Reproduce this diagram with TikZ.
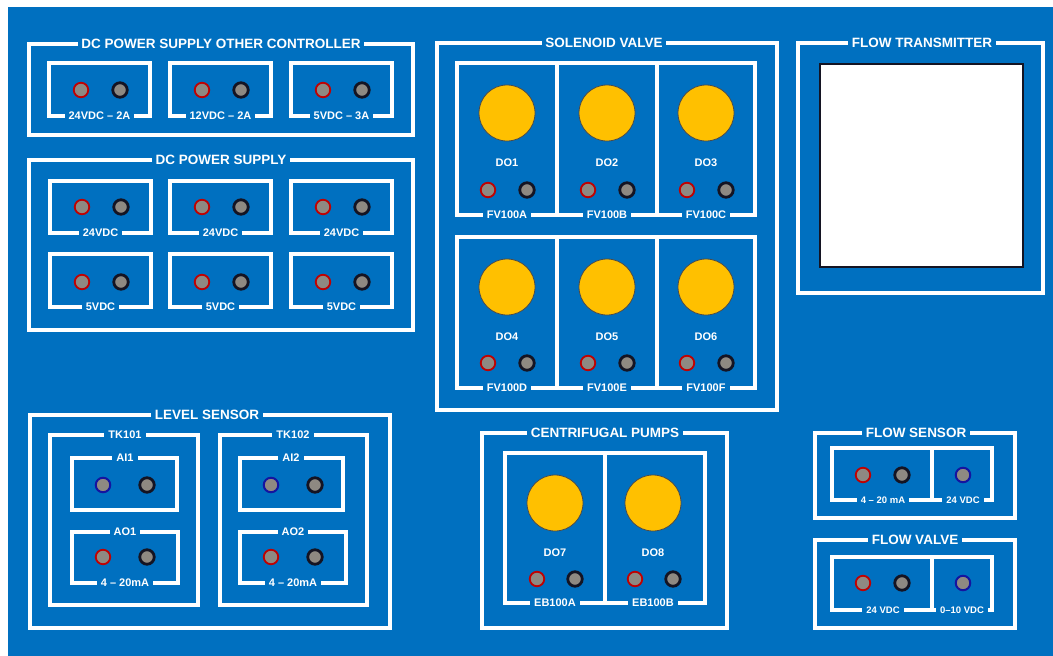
\documentclass[tikz,border=0pt]{standalone}
\usepackage{fontspec}
\setmainfont{Liberation Sans}
\definecolor{bg}{RGB}{0,112,192}
\definecolor{tgrey}{RGB}{142,137,130}
\definecolor{tred}{RGB}{192,0,0}
\definecolor{tblack}{RGB}{20,20,35}
\definecolor{tblue}{RGB}{20,20,160}
\definecolor{lamp}{RGB}{255,192,0}
\tikzset{
 frame/.style={draw=white,line width=4pt},
 ttl/.style={fill=bg,text=white,font=\bfseries\fontsize{13.5}{14}\selectfont,inner xsep=3.5pt,inner ysep=1pt},
 lbl/.style={fill=bg,text=white,font=\bfseries\fontsize{11}{12}\selectfont,inner xsep=4pt,inner ysep=1pt},
 slbl/.style={lbl,font=\bfseries\fontsize{9.5}{10}\selectfont},
 txt/.style={text=white,font=\bfseries\fontsize{11}{12}\selectfont},
 jack/.style={circle,fill=tgrey,minimum size=14.5pt,inner sep=0pt},
 jr/.style={jack,draw=tred,line width=1.8pt},
 jb/.style={jack,draw=tblack,line width=2.8pt},
 ju/.style={jack,draw=tblue,line width=2pt},
 lampst/.style={circle,fill=lamp,draw=black!70,line width=0.8pt,minimum size=56pt,inner sep=0pt},
}
\begin{document}
\begin{tikzpicture}[x=1pt,y=-1pt]
\useasboundingbox (0,0) rectangle (1053,656);
\fill[white] (0,0) rectangle (1053,656);
\fill[bg] (8,7) rectangle (1053,656);

% ---------- DC POWER SUPPLY OTHER CONTROLLER
\draw[frame] (29,44) rectangle (413,135);
\node[ttl] (t1) at (221,44) {DC POWER SUPPLY OTHER CONTROLLER};
\foreach \x/\t [count=\i] in {49/24VDC – 2A,170/12VDC – 2A,291/5VDC – 3A}{
  \draw[frame] (\x,63) rectangle ({\x+101},116);
  \node[jr] (ar\i) at ({\x+32},90) {};
  \node[jb] (ak\i) at ({\x+71},90) {};
  \node[lbl] (al\i) at ({\x+50.5},116) {\t};
}

% ---------- DC POWER SUPPLY
\draw[frame] (29,160) rectangle (413,330);
\node[ttl] (t2) at (221,160) {DC POWER SUPPLY};
\foreach \x [count=\i] in {50,170,291}{
  \draw[frame] (\x,181) rectangle ({\x+101},233);
  \node[jr] (br\i) at ({\x+32},207) {};
  \node[jb] (bk\i) at ({\x+71},207) {};
  \node[lbl] (bl\i) at ({\x+50.5},233) {24VDC};
  \draw[frame] (\x,254) rectangle ({\x+101},307);
  \node[jr] (cr\i) at ({\x+32},282) {};
  \node[jb] (ck\i) at ({\x+71},282) {};
  \node[lbl] (cl\i) at ({\x+50.5},307) {5VDC};
}

% ---------- SOLENOID VALVE
\draw[frame] (437,43) rectangle (777,410);
\node[ttl] (t3) at (604,43) {SOLENOID VALVE};
\draw[frame] (457,63) rectangle (755,215);
\draw[frame] (557,63) -- (557,215);
\draw[frame] (657,63) -- (657,215);
\draw[frame] (457,237) rectangle (755,388);
\draw[frame] (557,237) -- (557,388);
\draw[frame] (657,237) -- (657,388);
\foreach \c/\d/\f [count=\i] in {507/DO1/FV100A,607/DO2/FV100B,706/DO3/FV100C}{
  \node[lampst] (sl\i) at (\c,113) {};
  \node[txt] (sd\i) at (\c,163) {\d};
  \node[jr] (sr\i) at ({\c-19},190) {};
  \node[jb] (sk\i) at ({\c+20},190) {};
  \node[lbl] (sf\i) at (\c,215) {\f};
}
\foreach \c/\d/\f [count=\i] in {507/DO4/FV100D,607/DO5/FV100E,706/DO6/FV100F}{
  \node[lampst] (ul\i) at (\c,287) {};
  \node[txt] (ud\i) at (\c,337) {\d};
  \node[jr] (ur\i) at ({\c-19},363) {};
  \node[jb] (uk\i) at ({\c+20},363) {};
  \node[lbl] (uf\i) at (\c,388) {\f};
}

% ---------- FLOW TRANSMITTER
\draw[frame] (798,43) rectangle (1043,293);
\node[ttl] (t4) at (922,43) {FLOW TRANSMITTER};
\node[draw=tblack,line width=1.5pt,fill=white,minimum width=203pt,minimum height=203pt,inner sep=0pt] (screen) at (921.5,165.5) {};

% ---------- LEVEL SENSOR
\draw[frame] (30,415) rectangle (390,628);
\node[ttl] (t5) at (207,415) {LEVEL SENSOR};
\draw[frame] (50,435) rectangle (198,605);
\draw[frame] (220,435) rectangle (367,605);
\draw[frame] (72,458) rectangle (177,510);
\draw[frame] (72,532) rectangle (178,583);
\draw[frame] (240,458) rectangle (343,510);
\draw[frame] (240,532) rectangle (346,583);
\node[lbl] (tk1) at (125,435) {TK101};
\node[lbl] (tk2) at (293,435) {TK102};
\node[lbl] (ai1) at (125,458) {AI1};
\node[lbl] (ao1) at (125,532) {AO1};
\node[lbl] (ma1) at (125,583) {4 – 20mA};
\node[lbl] (ai2) at (291,458) {AI2};
\node[lbl] (ao2) at (293,532) {AO2};
\node[lbl] (ma2) at (293,583) {4 – 20mA};
\node[ju] (lu1) at (103,485) {};
\node[jb] (lk1) at (147,485) {};
\node[jr] (lr1) at (103,557) {};
\node[jb] (lk2) at (147,557) {};
\node[ju] (lu2) at (271,485) {};
\node[jb] (lk3) at (315,485) {};
\node[jr] (lr2) at (271,557) {};
\node[jb] (lk4) at (315,557) {};

% ---------- CENTRIFUGAL PUMPS
\draw[frame] (482,433) rectangle (727,628);
\node[ttl] (t6) at (605,433) {CENTRIFUGAL PUMPS};
\draw[frame] (505,453) rectangle (705,603);
\draw[frame] (605,453) -- (605,603);
\foreach \c/\d/\f [count=\i] in {555/DO7/EB100A,653/DO8/EB100B}{
  \node[lampst] (pl\i) at (\c,503) {};
  \node[txt] (pd\i) at (\c,553) {\d};
  \node[jr] (pr\i) at ({\c-18},579) {};
  \node[jb] (pk\i) at ({\c+20},579) {};
  \node[lbl] (pf\i) at (\c,603) {\f};
}

% ---------- FLOW SENSOR
\draw[frame] (815,433) rectangle (1015,518);
\node[ttl] (t7) at (916,433) {FLOW SENSOR};
\draw[frame] (832,448) rectangle (992,500);
\draw[frame] (932,448) -- (932,500);
\node[jr] (fr1) at (863,475) {};
\node[jb] (fk1) at (902,475) {};
\node[ju] (fu1) at (963,475) {};
\node[slbl] (fs1) at (883,500) {4 – 20 mA};
\node[slbl] (fs2) at (963,500) {24 VDC};

% ---------- FLOW VALVE
\draw[frame] (815,540) rectangle (1015,628);
\node[ttl] (t8) at (915,540) {FLOW VALVE};
\draw[frame] (832,557) rectangle (992,610);
\draw[frame] (932,557) -- (932,610);
\node[jr] (vr1) at (863,583) {};
\node[jb] (vk1) at (902,583) {};
\node[ju] (vu1) at (963,583) {};
\node[slbl] (vs1) at (883,610) {24 VDC};
\node[slbl] (vs2) at (962,610) {0–10 VDC};
\end{tikzpicture}
\end{document}
